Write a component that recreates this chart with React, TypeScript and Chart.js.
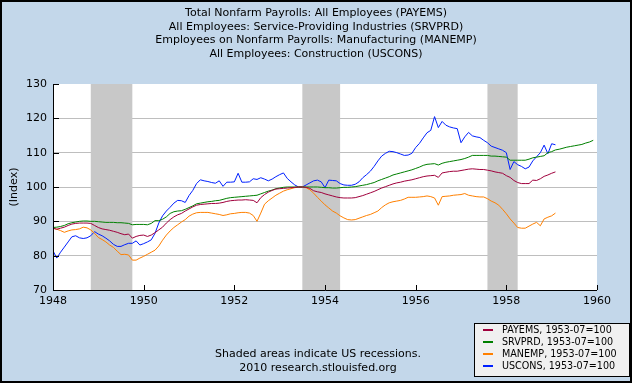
import React, { useEffect, useRef } from "react";
import { Chart, registerables } from "chart.js";

Chart.register(...registerables);

const START_YEAR = 1948;

const titleLines = [
  "Total Nonfarm Payrolls: All Employees (PAYEMS)",
  "All Employees: Service-Providing Industries (SRVPRD)",
  "Employees on Nonfarm Payrolls: Manufacturing (MANEMP)",
  "All Employees: Construction (USCONS)",
];

const footerLines = ["Shaded areas indicate US recessions.", "2010 research.stlouisfed.org"];
const yAxisTitle = "(Index)";

const seriesNames = [
  "PAYEMS, 1953-07=100",
  "SRVPRD, 1953-07=100",
  "MANEMP, 1953-07=100",
  "USCONS, 1953-07=100",
];
const seriesColors = ["#A0003C", "#008000", "#FF8000", "#0020FF"];

// monthly values starting Jan 1948
const payems = [
  88.0, 87.7, 88.0, 88.3, 88.8, 89.2, 89.4, 89.5, 89.5, 89.5, 89.4, 88.8,
  88.2, 87.8, 87.6, 87.4, 87.1, 86.8, 86.4, 86.1, 86.3, 85.1, 85.6, 85.9,
  86.0, 85.6, 86.0, 86.7, 87.5, 88.3, 89.5, 90.5, 91.3, 91.9, 92.3, 93.0,
  93.6, 94.2, 94.7, 94.9, 95.0, 95.1, 95.2, 95.2, 95.3, 95.5, 95.8, 96.0,
  96.1, 96.2, 96.2, 96.3, 96.2, 96.1, 95.4, 96.9, 97.8, 98.5, 99.0, 99.4,
  99.5, 99.6, 99.7, 99.8, 99.9, 100.0, 100.0, 99.9, 99.6, 98.9, 98.6, 98.4,
  98.0, 97.7, 97.4, 97.1, 96.9, 96.8, 96.8, 96.8, 96.9, 97.2, 97.5, 97.9,
  98.3, 98.7, 99.2, 99.7, 100.1, 100.5, 100.9, 101.2, 101.4, 101.7, 101.9, 102.1,
  102.4, 102.7, 103.0, 103.2, 103.3, 103.4, 102.8, 104.1, 104.3, 104.5, 104.6, 104.6,
  104.8, 105.0, 105.2, 105.3, 105.2, 105.1, 105.1, 104.9, 104.7, 104.4, 104.2, 104.0,
  103.3, 102.8, 101.9, 101.3, 101.0, 101.0, 101.0, 102.0, 101.9, 102.4, 103.1, 103.5,
  104.0, 104.4,
];

const srvprd = [
  88.2, 88.3, 88.5, 88.8, 89.3, 89.6, 89.8, 90.0, 90.1, 90.1, 90.0, 90.0,
  89.9, 89.8, 89.7, 89.7, 89.7, 89.6, 89.6, 89.5, 89.4, 89.0, 89.1, 89.1,
  89.1, 89.0, 89.4, 90.2, 90.2, 90.6, 91.3, 92.3, 92.8, 93.0, 93.1, 93.5,
  94.0, 94.5, 95.1, 95.3, 95.5, 95.7, 95.8, 96.0, 96.1, 96.4, 96.7, 96.9,
  97.0, 97.1, 97.2, 97.3, 97.4, 97.5, 97.6, 98.0, 98.4, 98.8, 99.1, 99.5,
  99.7, 99.9, 100.0, 100.0, 100.0, 100.0, 100.0, 100.0, 100.0, 100.0, 100.0, 99.9,
  99.8, 99.8, 99.7, 99.7, 99.8, 99.9, 99.9, 100.0, 100.1, 100.3, 100.5, 100.7,
  101.0, 101.3, 101.8, 102.2, 102.6, 103.0, 103.5, 103.8, 104.1, 104.4, 104.7, 105.0,
  105.4, 105.8, 106.3, 106.6, 106.7, 106.8, 106.4, 106.9, 107.2, 107.4, 107.6, 107.8,
  108.0, 108.3, 108.7, 109.2, 109.2, 109.2, 109.2, 109.2, 109.0, 109.0, 108.9, 108.8,
  108.7, 107.8, 107.8, 107.8, 107.8, 107.8, 108.1, 108.5, 108.7, 108.9, 109.1, 110.0,
  110.3, 110.8, 111.0, 111.3, 111.6, 111.8, 112.0, 112.2, 112.4, 112.8, 113.1, 113.6,
];

const manemp = [
  88.0, 87.7, 87.3, 86.8, 87.2, 87.5, 87.6, 87.8, 88.3, 88.1, 87.5, 86.5,
  85.3, 84.7, 84.0, 83.1, 82.4, 81.3, 80.3, 80.4, 80.2, 78.7, 78.7, 79.3,
  79.8, 80.4, 81.0, 81.6, 82.8, 84.5, 86.0, 87.2, 88.2, 89.0, 89.8, 90.5,
  91.5, 92.1, 92.5, 92.6, 92.6, 92.6, 92.4, 92.2, 92.0, 91.7, 91.9, 92.2,
  92.3, 92.5, 92.6, 92.6, 92.4, 91.7, 90.0, 92.4, 95.0, 96.0, 96.8, 97.6,
  98.2, 98.8, 99.2, 99.5, 99.8, 100.0, 100.0, 99.8, 99.2, 98.2, 97.0, 95.9,
  94.8, 93.9, 93.0, 92.4, 91.6, 91.0, 90.5, 90.4, 90.5, 90.9, 91.3, 91.7,
  92.0, 92.5, 93.0, 94.0, 94.8, 95.4, 95.7, 95.9, 96.1, 96.5, 97.0, 97.0,
  97.0, 97.1, 97.2, 97.4, 97.2, 96.8, 94.7, 97.2, 97.3, 97.4, 97.6, 97.7,
  97.8, 98.1, 97.6, 97.4, 97.2, 97.1, 97.1, 96.6, 95.9, 95.4, 94.7, 93.5,
  92.2, 90.7, 89.5, 88.2, 88.0, 88.0, 88.6, 89.2, 89.7, 88.7, 90.7, 91.2,
  91.6, 92.4,
];

const uscons = [
  81.4, 79.3, 81.0, 82.5, 84.0, 85.5, 85.8, 85.2, 85.0, 85.2, 85.8, 87.0,
  86.3, 85.8, 85.1, 84.3, 83.3, 82.7, 82.7, 83.2, 83.6, 83.6, 84.3, 83.1,
  83.5, 84.0, 84.6, 86.5, 89.5, 91.6, 93.0, 94.1, 95.3, 96.1, 96.0, 95.5,
  97.5, 99.0, 101.0, 102.1, 101.8, 101.6, 101.3, 101.1, 101.8, 100.2, 101.4, 101.4,
  101.5, 104.0, 101.4, 101.4, 101.5, 102.4, 102.2, 102.7, 102.3, 101.8, 102.3, 103.0,
  103.6, 104.1, 102.5, 101.5, 100.6, 100.0, 100.0, 100.6, 101.2, 101.8, 102.0, 101.5,
  99.8, 102.0, 101.9, 101.8, 101.0, 100.6, 100.5, 100.5, 100.8, 101.5, 102.7, 103.6,
  104.6, 106.0, 107.6, 109.0, 109.8, 110.4, 110.3, 110.0, 109.6, 109.2, 109.3, 109.8,
  111.5, 112.7, 114.3, 115.8, 116.5, 120.5, 117.3, 119.1, 118.0, 117.5, 117.2, 117.0,
  112.9, 114.6, 115.9, 114.9, 114.6, 114.4, 113.6, 112.9, 111.9, 111.5, 111.1, 110.7,
  110.0, 105.1, 107.4, 106.5, 106.0, 105.3, 105.8, 107.6, 108.8, 110.0, 112.2, 109.7,
  112.6, 112.3,
];

const recessionStarts = [1948 + 10 / 12, 1953 + 6 / 12, 1957 + 7 / 12];
const recessionEnds = [1949 + 9 / 12, 1954 + 4 / 12, 1958 + 3 / 12];

const xTicks = [1948, 1950, 1952, 1954, 1956, 1958, 1960];
const yTicks = [70, 80, 90, 100, 110, 120, 130];

const FONT = "'DejaVu Sans', Verdana, sans-serif";
const BG = "#C3D7EA";

function toPoints(arr: number[]) {
  return arr.map((v, i) => ({ x: START_YEAR + i / 12, y: v }));
}

const decorPlugin = {
  id: "decor",
  beforeDraw(chart: any) {
    const ctx = chart.ctx;
    const { left, right, top, bottom } = chart.chartArea;
    const W = chart.width;
    const H = chart.height;
    ctx.save();
    ctx.fillStyle = BG;
    ctx.fillRect(0, 0, W, H);
    ctx.fillStyle = "#FFFFFF";
    ctx.fillRect(left, top, right - left, bottom - top);
    // outer frame
    ctx.strokeStyle = "#000";
    ctx.lineWidth = 2;
    ctx.strokeRect(1, 1, W - 2, H - 2);
    // titles
    ctx.fillStyle = "#000";
    ctx.font = `11px ${FONT}`;
    ctx.textAlign = "center";
    ctx.textBaseline = "middle";
    titleLines.forEach((t, i) => ctx.fillText(t, W / 2, 13 + i * 13.7));
    // footer
    footerLines.forEach((t, i) => ctx.fillText(t, 318, 354 + i * 14));
    // y axis title
    ctx.save();
    ctx.translate(14, (top + bottom) / 2);
    ctx.rotate(-Math.PI / 2);
    ctx.fillText(yAxisTitle, 0, 0);
    ctx.restore();
    // legend
    const lx = 474, ly = 323, lw = 155, lh = 53;
    ctx.fillStyle = "#F0F0F0";
    ctx.fillRect(lx, ly, lw, lh);
    ctx.strokeStyle = "#000";
    ctx.lineWidth = 1;
    ctx.strokeRect(lx + 0.5, ly + 0.5, lw, lh);
    ctx.font = `9.6px ${FONT}`;
    ctx.textAlign = "left";
    seriesNames.forEach((name, i) => {
      const yy = ly + 7 + i * 12;
      ctx.strokeStyle = seriesColors[i];
      ctx.lineWidth = 2;
      ctx.beginPath();
      ctx.moveTo(483, yy);
      ctx.lineTo(493, yy);
      ctx.stroke();
      ctx.fillStyle = "#000";
      ctx.fillText(name, 502, yy);
    });
    ctx.restore();
  },
  beforeDatasetsDraw(chart: any) {
    const ctx = chart.ctx;
    const xs = chart.scales.x;
    const { top, bottom } = chart.chartArea;
    ctx.save();
    ctx.fillStyle = "#C8C8C8";
    recessionStarts.forEach((s, i) => {
      const x0 = xs.getPixelForValue(s);
      const x1 = xs.getPixelForValue(recessionEnds[i]);
      ctx.fillRect(x0, top, x1 - x0, bottom - top);
    });
    ctx.restore();
  },
  afterDatasetsDraw(chart: any) {
    const ctx = chart.ctx;
    const xs = chart.scales.x;
    const ys = chart.scales.y;
    const { left, right, top, bottom } = chart.chartArea;
    ctx.save();
    ctx.strokeStyle = "#000";
    ctx.lineWidth = 1;
    ctx.beginPath();
    ctx.moveTo(left + 0.5, top);
    ctx.lineTo(left + 0.5, bottom + 0.5);
    ctx.lineTo(right, bottom + 0.5);
    ctx.stroke();
    ctx.beginPath();
    yTicks.forEach((v) => {
      const y = Math.round(ys.getPixelForValue(v)) + 0.5;
      ctx.moveTo(left, y);
      ctx.lineTo(left + 6, y);
    });
    xTicks.forEach((v) => {
      const x = Math.round(xs.getPixelForValue(v)) + 0.5;
      ctx.moveTo(x, bottom);
      ctx.lineTo(x, bottom - 5);
    });
    ctx.stroke();
    ctx.restore();
  },
};

export default function App() {
  const ref = useRef<HTMLCanvasElement | null>(null);
  useEffect(() => {
    document.body.style.margin = "0";
    const canvas = ref.current;
    if (!canvas) return;
    const all = [payems, srvprd, manemp, uscons];
    const chart = new Chart(canvas, {
      type: "line",
      data: {
        datasets: all.map((arr, i) => ({
          label: seriesNames[i],
          data: toPoints(arr),
          borderColor: seriesColors[i],
          backgroundColor: seriesColors[i],
          borderWidth: 1,
          pointRadius: 0,
          tension: 0,
          fill: false,
        })),
      },
      options: {
        responsive: false,
        animation: false,
        layout: { padding: { top: 84, right: 35, left: 0, bottom: 0 } },
        plugins: {
          legend: { display: false },
          title: { display: false },
          tooltip: { enabled: false },
        },
        scales: {
          x: {
            type: "linear",
            min: 1948,
            max: 1960,
            afterBuildTicks: (s: any) => {
              s.ticks = xTicks.map((v) => ({ value: v }));
            },
            afterFit: (s: any) => {
              s.height = 93;
            },
            ticks: {
              callback: (v: any) => String(v),
              font: { family: FONT, size: 11 },
              color: "#000",
              padding: 5,
              maxRotation: 0,
              autoSkip: false,
            },
            grid: { display: false, drawTicks: false },
            border: { display: false },
          },
          y: {
            min: 70,
            max: 130,
            afterBuildTicks: (s: any) => {
              s.ticks = yTicks.map((v) => ({ value: v }));
            },
            afterFit: (s: any) => {
              s.width = 53;
            },
            ticks: {
              callback: (v: any) => String(v),
              font: { family: FONT, size: 11 },
              color: "#000",
              padding: 6,
            },
            grid: {
              drawTicks: false,
              lineWidth: 1,
              color: (c: any) =>
                c.tick && (c.tick.value === 70 || c.tick.value === 130) ? "rgba(0,0,0,0)" : "#BEBEBE",
            },
            border: { display: false },
          },
        },
      } as any,
      plugins: [decorPlugin],
    });
    return () => chart.destroy();
  }, []);
  return <canvas ref={ref} width={632} height={383} style={{ display: "block" }} />;
}
